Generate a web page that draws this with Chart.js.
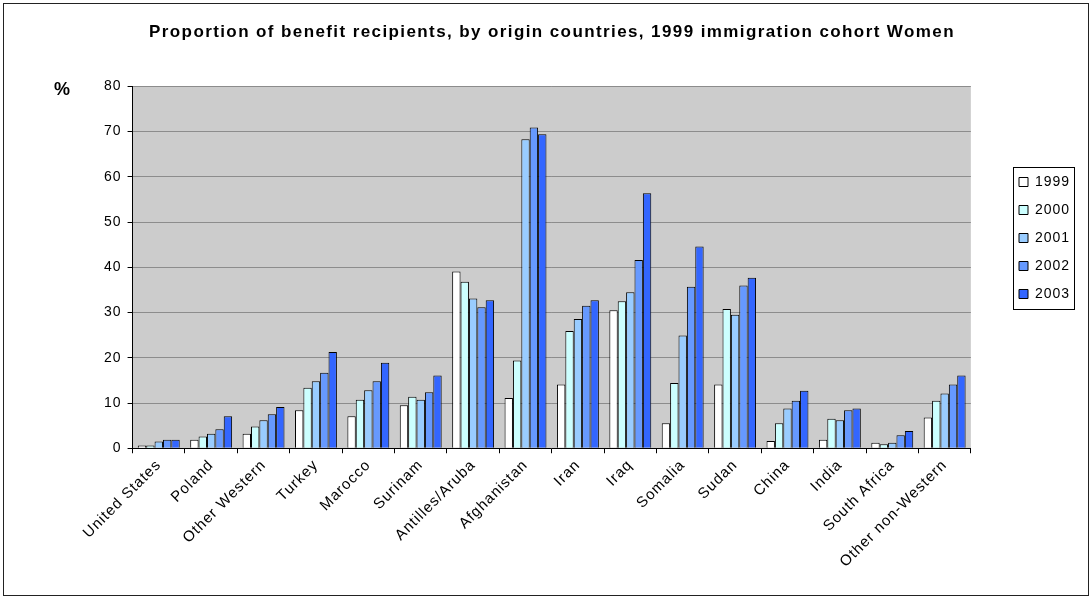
<!DOCTYPE html>
<html>
<head>
<meta charset="utf-8">
<script src="https://cdn.jsdelivr.net/npm/chart.js@4.4.0/dist/chart.umd.min.js"></script>
<style>
  html, body { margin: 0; padding: 0; background: #fff; }
  #wrap { position: relative; width: 1092px; height: 599px; }
</style>
</head>
<body>
<div id="wrap"><canvas id="myChart"></canvas></div>
<script>
const countries = ['United States', 'Poland', 'Other Western', 'Turkey', 'Marocco', 'Surinam',
  'Antilles/Aruba', 'Afghanistan', 'Iran', 'Iraq', 'Somalia', 'Sudan', 'China', 'India',
  'South Africa', 'Other non-Western'];
const years = ['1999', '2000', '2001', '2002', '2003'];

const v1999 = [0.6, 1.9, 3.2, 8.4, 7.1, 9.5, 39.1, 11.1, 14.1, 30.5, 5.5, 14.1, 1.6, 1.9, 1.2, 6.8];
const v2000 = [0.6, 2.6, 4.8, 13.4, 10.7, 11.4, 36.8, 19.4, 25.9, 32.5, 14.4, 30.8, 5.5, 6.5, 0.9, 10.5];
const v2001 = [1.5, 3.2, 6.2, 14.8, 12.8, 10.7, 33.1, 68.3, 28.6, 34.5, 24.9, 29.5, 8.8, 6.2, 1.2, 12.1];
const v2002 = [1.9, 4.2, 7.5, 16.7, 14.8, 12.4, 31.2, 70.9, 31.5, 41.6, 35.7, 36.0, 10.5, 8.4, 2.9, 14.1];
const v2003 = [1.9, 7.1, 9.1, 21.3, 18.9, 16.1, 32.7, 69.4, 32.7, 56.4, 44.6, 37.7, 12.7, 8.8, 3.8, 16.1];

const yTicks = [0, 10, 20, 30, 40, 50, 60, 70, 80];
const barColors = ['#FFFFFF', '#CCFFFF', '#99CCFF', '#6699FF', '#3366FF'];
const seriesValues = [v1999, v2000, v2001, v2002, v2003];

const FONT = "'Liberation Sans', Arial, sans-serif";

// a bit of letter spacing, like the original export
const spacing = {
  id: 'spacing',
  beforeUpdate(chart) { chart.ctx.letterSpacing = '1px'; },
  beforeDraw(chart) { chart.ctx.letterSpacing = '1px'; }
};

// grey plot area + outer frame
const plotBackground = {
  id: 'plotBackground',
  beforeDraw(chart) {
    const { ctx, chartArea } = chart;
    ctx.save();
    ctx.fillStyle = '#fff';
    ctx.fillRect(0, 0, chart.width, chart.height);
    ctx.strokeStyle = '#222';
    ctx.lineWidth = 1;
    ctx.strokeRect(3.5, 3.5, chart.width - 7, chart.height - 7);
    ctx.fillStyle = '#CCCCCC';
    ctx.fillRect(chartArea.left, chartArea.top, chartArea.right - chartArea.left, chartArea.bottom - chartArea.top);
    ctx.restore();
  }
};

// "%" unit label at top of the y axis
const unitLabel = {
  id: 'unitLabel',
  afterDraw(chart) {
    const { ctx } = chart;
    ctx.save();
    ctx.letterSpacing = '0px';
    ctx.font = 'bold 18px ' + FONT;
    ctx.fillStyle = '#000';
    ctx.textAlign = 'center';
    ctx.textBaseline = 'middle';
    ctx.fillText('%', 62, 90);
    ctx.restore();
  }
};

// place title over full width, move legend, frame legend
const boxPlacement = {
  id: 'boxPlacement',
  afterLayout(chart) {
    const tb = chart.titleBlock;
    tb.left = 12;
    tb.right = chart.width;
    if (!tb._wrapped) {
      const draw = tb.draw.bind(tb);
      tb.draw = function () {
        chart.ctx.save();
        chart.ctx.letterSpacing = '1.4px';
        draw();
        chart.ctx.restore();
      };
      tb._wrapped = true;
    }
    const lg = chart.legend;
    const w = lg.width;
    lg.left = 1005;
    lg.right = lg.left + w;
    lg.top -= 49;
    lg.bottom -= 49;
  },
  afterDraw(chart) {
    const hb = chart.legend.legendHitBoxes;
    if (!hb || !hb.length) return;
    const left = Math.min(...hb.map(h => h.left)) - 6;
    const right = Math.max(...hb.map(h => h.left + h.width)) + 4;
    const top = hb[0].top - 8;
    const bottom = hb[hb.length - 1].top + hb[hb.length - 1].height + 8;
    const { ctx } = chart;
    ctx.save();
    ctx.strokeStyle = '#000';
    ctx.lineWidth = 1;
    ctx.strokeRect(Math.round(left) + 0.5, Math.round(top) + 0.5, Math.round(right - left), Math.round(bottom - top));
    ctx.restore();
  }
};

const ctx = document.getElementById('myChart');
const myChart = new Chart(ctx, {
  type: 'bar',
  data: {
    labels: countries,
    datasets: years.map((y, i) => ({
      label: y,
      data: seriesValues[i],
      backgroundColor: barColors[i],
      borderColor: '#000',
      borderWidth: 1,
      categoryPercentage: 0.8,
      barPercentage: 1.0
    }))
  },
  options: {
    responsive: true,
    maintainAspectRatio: false,
    animation: false,
    layout: { padding: { left: 98, right: 46, top: 0, bottom: 25 } },
    scales: {
      x: {
        grid: { display: true, drawOnChartArea: false, offset: true, tickLength: 5, tickColor: '#000' },
        border: { color: '#000' },
        ticks: {
          font: { family: FONT, size: 15 },
          color: '#000',
          minRotation: 45,
          maxRotation: 45,
          autoSkip: false
        }
      },
      y: {
        min: 0,
        max: 80,
        afterBuildTicks(axis) { axis.ticks = yTicks.map(v => ({ value: v })); },
        grid: { color: '#8C8C8C', tickLength: 5, tickColor: '#000' },
        border: { color: '#000' },
        ticks: { font: { family: FONT, size: 14 }, color: '#000', padding: 6 }
      }
    },
    plugins: {
      title: {
        display: true,
        text: 'Proportion of benefit recipients, by origin countries, 1999 immigration cohort Women',
        font: { family: FONT, size: 17, weight: 'bold' },
        color: '#000',
        padding: { top: 22, bottom: 44 }
      },
      legend: {
        position: 'right',
        labels: {
          font: { family: FONT, size: 14 },
          color: '#000',
          boxWidth: 9,
          boxHeight: 9,
          padding: 14
        }
      },
      tooltip: { enabled: false }
    }
  },
  plugins: [spacing, plotBackground, unitLabel, boxPlacement]
});
</script>
</body>
</html>
